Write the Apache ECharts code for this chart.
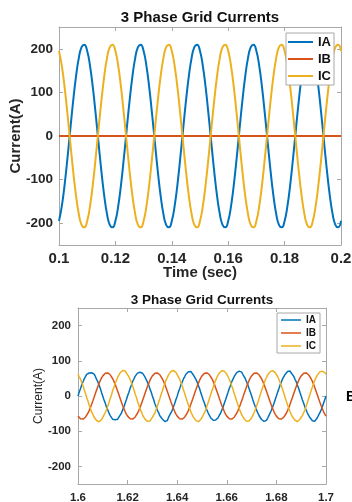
<!DOCTYPE html>
<html>
<head>
<meta charset="utf-8">
<script src="https://cdn.jsdelivr.net/npm/echarts@6/dist/echarts.min.js"></script>
<style>html,body{margin:0;padding:0;background:#fff;}#c{width:352px;height:502px;}</style>
</head>
<body>
<div id="c"></div>
<script>
// ---------- Data ----------
const seriesNames = ['IA', 'IB', 'IC'];
const chartTitle = '3 Phase Grid Currents';
const xAxisName = 'Time (sec)';
const yAxisName = 'Current(A)';
const yTickValues = [-200, -100, 0, 100, 200];

// Top panel: 0.1 .. 0.2 s
const topTimes = [
0.100,0.101,0.102,0.103,0.104,0.105,0.106,0.107,0.108,0.109,
0.110,0.111,0.112,0.113,0.114,0.115,0.116,0.117,0.118,0.119,
0.120,0.121,0.122,0.123,0.124,0.125,0.126,0.127,0.128,0.129,
0.130,0.131,0.132,0.133,0.134,0.135,0.136,0.137,0.138,0.139,
0.140,0.141,0.142,0.143,0.144,0.145,0.146,0.147,0.148,0.149,
0.150,0.151,0.152,0.153,0.154,0.155,0.156,0.157,0.158,0.159,
0.160,0.161,0.162,0.163,0.164,0.165,0.166,0.167,0.168,0.169,
0.170,0.171,0.172,0.173,0.174,0.175,0.176,0.177,0.178,0.179,
0.180,0.181,0.182,0.183,0.184,0.185,0.186,0.187,0.188,0.189,
0.190,0.191,0.192,0.193,0.194,0.195,0.196,0.197,0.198,0.199,
0.200];
const topIA = [
-194.7,-160.9,-111.3,-50.8,14.7,78.7,135.0,178.1,203.8,209.5,194.7,160.9,111.3,50.8,-14.7,-78.7,-135.0,-178.1,-203.8,-209.5,
-194.7,-160.9,-111.3,-50.8,14.7,78.7,135.0,178.1,203.8,209.5,194.7,160.9,111.3,50.8,-14.7,-78.7,-135.0,-178.1,-203.8,-209.5,
-194.7,-160.9,-111.3,-50.8,14.7,78.7,135.0,178.1,203.8,209.5,194.7,160.9,111.3,50.8,-14.7,-78.7,-135.0,-178.1,-203.8,-209.5,
-194.7,-160.9,-111.3,-50.8,14.7,78.7,135.0,178.1,203.8,209.5,194.7,160.9,111.3,50.8,-14.7,-78.7,-135.0,-178.1,-203.8,-209.5,
-194.7,-160.9,-111.3,-50.8,14.7,78.7,135.0,178.1,203.8,209.5,194.7,160.9,111.3,50.8,-14.7,-78.7,-135.0,-178.1,-203.8,-209.5,
-194.7];
const topIBTimes = [0.1, 0.2];
const topIB = [0, 0];
const topIC = [
194.7,160.9,111.3,50.8,-14.7,-78.7,-135.0,-178.1,-203.8,-209.5,-194.7,-160.9,-111.3,-50.8,14.7,78.7,135.0,178.1,203.8,209.5,
194.7,160.9,111.3,50.8,-14.7,-78.7,-135.0,-178.1,-203.8,-209.5,-194.7,-160.9,-111.3,-50.8,14.7,78.7,135.0,178.1,203.8,209.5,
194.7,160.9,111.3,50.8,-14.7,-78.7,-135.0,-178.1,-203.8,-209.5,-194.7,-160.9,-111.3,-50.8,14.7,78.7,135.0,178.1,203.8,209.5,
194.7,160.9,111.3,50.8,-14.7,-78.7,-135.0,-178.1,-203.8,-209.5,-194.7,-160.9,-111.3,-50.8,14.7,78.7,135.0,178.1,203.8,209.5,
194.7,160.9,111.3,50.8,-14.7,-78.7,-135.0,-178.1,-203.8,-209.5,-194.7,-160.9,-111.3,-50.8,14.7,78.7,135.0,178.1,203.8,209.5,
194.7];

// Bottom panel: 1.6 .. 1.7 s
const bottomTimes = [
1.6000,1.6005,1.6010,1.6015,1.6020,1.6025,1.6030,1.6035,1.6040,1.6045,1.6050,1.6055,1.6060,1.6065,1.6070,1.6075,1.6080,1.6085,1.6090,1.6095,
1.6100,1.6105,1.6110,1.6115,1.6120,1.6125,1.6130,1.6135,1.6140,1.6145,1.6150,1.6155,1.6160,1.6165,1.6170,1.6175,1.6180,1.6185,1.6190,1.6195,
1.6200,1.6205,1.6210,1.6215,1.6220,1.6225,1.6230,1.6235,1.6240,1.6245,1.6250,1.6255,1.6260,1.6265,1.6270,1.6275,1.6280,1.6285,1.6290,1.6295,
1.6300,1.6305,1.6310,1.6315,1.6320,1.6325,1.6330,1.6335,1.6340,1.6345,1.6350,1.6355,1.6360,1.6365,1.6370,1.6375,1.6380,1.6385,1.6390,1.6395,
1.6400,1.6405,1.6410,1.6415,1.6420,1.6425,1.6430,1.6435,1.6440,1.6445,1.6450,1.6455,1.6460,1.6465,1.6470,1.6475,1.6480,1.6485,1.6490,1.6495,
1.6500,1.6505,1.6510,1.6515,1.6520,1.6525,1.6530,1.6535,1.6540,1.6545,1.6550,1.6555,1.6560,1.6565,1.6570,1.6575,1.6580,1.6585,1.6590,1.6595,
1.6600,1.6605,1.6610,1.6615,1.6620,1.6625,1.6630,1.6635,1.6640,1.6645,1.6650,1.6655,1.6660,1.6665,1.6670,1.6675,1.6680,1.6685,1.6690,1.6695,
1.6700,1.6705,1.6710,1.6715,1.6720,1.6725,1.6730,1.6735,1.6740,1.6745,1.6750,1.6755,1.6760,1.6765,1.6770,1.6775,1.6780,1.6785,1.6790,1.6795,
1.6800,1.6805,1.6810,1.6815,1.6820,1.6825,1.6830,1.6835,1.6840,1.6845,1.6850,1.6855,1.6860,1.6865,1.6870,1.6875,1.6880,1.6885,1.6890,1.6895,
1.6900,1.6905,1.6910,1.6915,1.6920,1.6925,1.6930,1.6935,1.6940,1.6945,1.6950,1.6955,1.6960,1.6965,1.6970,1.6975,1.6980,1.6985,1.6990,1.6995,
1.7000];
const bottomIA = [
0,11.2,20.5,31.4,39.6,48.8,54.3,61.2,66.1,65.3,70.2,66.0,68.4,62.1,55.6,47.2,40.8,30.1,21.7,9.9,
-0.6,-11.4,-20.3,-31.8,-39.2,-48.9,-55.7,-60.1,-66.3,-70.8,-67.4,-71.9,-66.0,-62.3,-54.4,-48.6,-39.5,-31.2,-20.4,-10.9,
0.5,10.1,21.6,30.3,40.7,47.6,55.8,59.9,65.0,69.1,67.5,71.3,64.8,61.5,54.1,48.9,39.3,31.6,20.2,11.3,
0.2,-10.2,-21.8,-30.5,-40.6,-47.3,-56.1,-61.7,-65.2,-69.5,-72.4,-66.8,-69.9,-60.8,-55.9,-47.5,-40.7,-30.4,-21.3,-9.8,
-0.4,11.7,20.9,31.8,39.1,48.5,54.6,61.8,64.2,68.7,66.3,69.8,66.1,59.7,55.4,47.8,40.2,30.6,21.4,10.2,
-0.8,-11.1,-20.6,-31.2,-40.1,-48.4,-54.8,-62.0,-64.9,-68.8,-71.2,-68.1,-70.5,-61.6,-54.7,-48.9,-39.8,-31.5,-20.7,-10.5,
0.3,10.4,21.3,30.7,40.4,48.0,55.5,60.3,66.4,66.2,70.6,65.7,67.9,61.0,55.0,48.4,39.7,31.1,20.8,10.8,
0.4,-10.7,-21.2,-30.8,-40.3,-47.9,-55.4,-60.7,-66.8,-68.1,-72.0,-67.3,-69.2,-62.5,-55.1,-47.7,-40.4,-30.9,-21.0,-10.4,
-0.2,11.0,20.7,31.2,39.8,48.6,54.9,61.1,65.3,69.4,66.8,70.9,65.2,60.9,55.7,47.4,40.5,30.4,21.5,10.0,
-0.3,-11.3,-20.9,-31.0,-39.9,-48.2,-55.2,-61.3,-65.6,-70.1,-67.9,-71.5,-66.4,-61.8,-54.6,-48.1,-40.0,-31.3,-20.9,-10.6,
0.1];
const bottomIB = [
-57.2,-61.6,-64.6,-65.9,-65.6,-63.7,-60.3,-55.4,-49.0,-41.5,-33.0,-23.7,-13.7,-3.5,6.9,17.1,26.8,35.9,44.2,51.3,
57.2,61.6,64.6,65.9,65.6,63.7,60.3,55.4,49.0,41.5,33.0,23.7,13.7,3.5,-6.9,-17.1,-26.8,-35.9,-44.2,-51.3,
-57.2,-61.6,-64.6,-65.9,-65.6,-63.7,-60.3,-55.4,-49.0,-41.5,-33.0,-23.7,-13.7,-3.5,6.9,17.1,26.8,35.9,44.2,51.3,
57.2,61.6,64.6,65.9,65.6,63.7,60.3,55.4,49.0,41.5,33.0,23.7,13.7,3.5,-6.9,-17.1,-26.8,-35.9,-44.2,-51.3,
-57.2,-61.6,-64.6,-65.9,-65.6,-63.7,-60.3,-55.4,-49.0,-41.5,-33.0,-23.7,-13.7,-3.5,6.9,17.1,26.8,35.9,44.2,51.3,
57.2,61.6,64.6,65.9,65.6,63.7,60.3,55.4,49.0,41.5,33.0,23.7,13.7,3.5,-6.9,-17.1,-26.8,-35.9,-44.2,-51.3,
-57.2,-61.6,-64.6,-65.9,-65.6,-63.7,-60.3,-55.4,-49.0,-41.5,-33.0,-23.7,-13.7,-3.5,6.9,17.1,26.8,35.9,44.2,51.3,
57.2,61.6,64.6,65.9,65.6,63.7,60.3,55.4,49.0,41.5,33.0,23.7,13.7,3.5,-6.9,-17.1,-26.8,-35.9,-44.2,-51.3,
-57.2,-61.6,-64.6,-65.9,-65.6,-63.7,-60.3,-55.4,-49.0,-41.5,-33.0,-23.7,-13.7,-3.5,6.9,17.1,26.8,35.9,44.2,51.3,
57.2,61.6,64.6,65.9,65.6,63.7,60.3,55.4,49.0,41.5,33.0,23.7,13.7,3.5,-6.9,-17.1,-26.8,-35.9,-44.2,-51.3,
-57.2];
const bottomIC = [
62.3,54.6,48.1,38.2,29.6,17.9,8.1,-4.2,-14.1,-26.0,-34.9,-45.3,-52.1,-60.2,-64.3,-69.5,-69.8,-73.1,-68.7,-67.2,
-60.9,-55.8,-46.9,-39.3,-28.3,-19.0,-6.8,3.1,15.4,24.8,36.1,44.0,53.5,58.8,66.0,67.7,72.4,69.8,71.3,65.4,
62.0,54.9,47.0,39.3,28.4,19.0,6.9,-3.2,-15.3,-24.9,-36.0,-44.1,-53.4,-58.9,-65.6,-67.9,-72.0,-70.1,-71.2,-65.5,
-62.1,-54.6,-48.0,-38.1,-29.5,-17.8,-7.9,4.3,14.2,26.0,34.9,45.3,52.2,60.1,64.2,69.8,69.9,72.6,68.5,67.0,
61.0,55.8,47.9,38.0,29.3,18.0,7.8,-4.0,-14.5,-25.9,-35.1,-45.0,-52.5,-60.0,-64.6,-69.2,-70.9,-72.8,-68.9,-66.8,
-61.0,-55.5,-47.1,-39.0,-28.6,-18.8,-7.0,3.4,15.1,25.0,35.8,44.4,53.1,59.2,65.5,68.2,71.8,70.3,70.6,65.8,
61.8,54.7,47.6,38.9,28.7,18.6,7.2,-3.5,-15.0,-25.2,-35.7,-44.5,-53.0,-59.3,-65.2,-68.1,-71.6,-70.2,-70.8,-65.9,
-61.8,-54.9,-47.7,-38.5,-29.1,-18.2,-7.6,3.9,14.6,25.6,35.3,44.9,52.6,59.8,64.5,69.3,70.4,72.1,69.0,66.6,
61.3,55.4,47.3,38.5,29.1,18.2,7.6,-3.9,-14.6,-25.5,-35.4,-44.9,-52.7,-59.6,-64.8,-68.9,-70.3,-72.5,-69.6,-66.1,
-61.4,-55.0,-47.6,-38.8,-28.8,-18.5,-7.2,3.6,14.9,25.2,35.6,44.6,52.9,59.4,65.0,68.5,71.2,70.7,70.0,66.4,
61.6];

// ---------- Chart ----------
const colors = ['#0072BD', '#D95319', '#EDB120'];
const frameColor = '#a8a8a8';
const txtColor = '#262626';
const FONT = '"Liberation Sans", Arial, sans-serif';
const zip = (xs, ys) => xs.map((x, i) => [x, ys[i]]);
const fmtX = v => String(+(+v).toFixed(2));

function xAx(grid, pos, min, max, labelSize, showLabel, margin, name, nameGap, nameSize) {
  return {
    type: 'value', gridIndex: grid, position: pos, min: min, max: max, interval: 0.02,
    axisLine: { show: true, onZero: false, lineStyle: { color: frameColor, width: 1 } },
    axisTick: { show: true, inside: true, length: 4, lineStyle: { color: frameColor } },
    axisLabel: { show: showLabel, formatter: fmtX, color: txtColor, fontWeight: 'bold', fontSize: labelSize, fontFamily: FONT, margin: margin, hideOverlap: false },
    splitLine: { show: false },
    name: name || '', nameLocation: 'middle', nameGap: nameGap || 0, nameMoveOverlap: false,
    nameTextStyle: { color: txtColor, fontWeight: 'bold', fontSize: nameSize || 12, fontFamily: FONT }
  };
}
function yAx(grid, pos, labelSize, showLabel, margin, name, nameGap, nameSize, nameWeight) {
  return {
    type: 'value', gridIndex: grid, position: pos, min: -250, max: 250, interval: 50,
    axisLine: { show: true, onZero: false, lineStyle: { color: frameColor, width: 1 } },
    axisTick: { show: true, inside: true, length: 4, customValues: yTickValues, lineStyle: { color: frameColor } },
    axisLabel: { show: showLabel, customValues: yTickValues, color: txtColor, fontWeight: 'bold', fontSize: labelSize, fontFamily: FONT, margin: margin },
    splitLine: { show: false },
    name: name || '', nameLocation: 'middle', nameGap: nameGap || 0, nameRotate: 90, nameMoveOverlap: false,
    nameTextStyle: { color: txtColor, fontWeight: nameWeight || 'bold', fontSize: nameSize || 12, fontFamily: FONT }
  };
}
function lineSeries(name, data, xi, yi, color, width, smooth, z) {
  return {
    type: 'line', name: name, data: data, xAxisIndex: xi, yAxisIndex: yi,
    symbol: 'none', showSymbol: false, smooth: smooth, color: color, z: z,
    lineStyle: { color: color, width: width }, emphasis: { disabled: true }, clip: true
  };
}

const chart = echarts.init(document.getElementById('c'), null, { renderer: 'canvas', width: 352, height: 502 });
chart.setOption({
  animation: false,
  backgroundColor: '#ffffff',
  grid: [
    { left: 59, top: 27, width: 282, height: 218, containLabel: false, outerBoundsMode: 'none' },
    { left: 78, top: 308, width: 248, height: 176, containLabel: false, outerBoundsMode: 'none' }
  ],
  xAxis: [
    xAx(0, 'bottom', 0.1, 0.2, 15, true, 6, xAxisName, 20, 15),
    xAx(0, 'top', 0.1, 0.2, 15, false, 6),
    xAx(1, 'bottom', 1.6, 1.7, 11.5, true, 8),
    xAx(1, 'top', 1.6, 1.7, 11.5, false, 8)
  ],
  yAxis: [
    yAx(0, 'left', 13.5, true, 6, yAxisName, 36, 15, 'bold'),
    yAx(0, 'right', 13.5, false, 6),
    yAx(1, 'left', 11.5, true, 7, yAxisName, 33, 12, 'normal'),
    yAx(1, 'right', 11.5, false, 7)
  ],
  legend: [
    {
      data: seriesNames, orient: 'vertical', left: 286, top: 33, icon: 'rect',
      itemWidth: 25, itemHeight: 2, itemGap: 3, padding: [2, 3, 2, 2],
      backgroundColor: '#ffffff', borderColor: frameColor, borderWidth: 1, borderRadius: 0,
      textStyle: { color: '#111', fontWeight: 'bold', fontSize: 13, lineHeight: 14, fontFamily: FONT },
      selectedMode: false, z: 10
    },
    {
      data: seriesNames, orient: 'vertical', left: 277, top: 313, icon: 'rect',
      itemWidth: 20, itemHeight: 1.5, itemGap: 3, padding: [2, 4, 2, 4],
      backgroundColor: '#ffffff', borderColor: frameColor, borderWidth: 1, borderRadius: 0,
      textStyle: { color: '#111', fontWeight: 'bold', fontSize: 10, lineHeight: 10, fontFamily: FONT },
      selectedMode: false, z: 10
    }
  ],
  graphic: [
    { type: 'text', x: 200, y: 18, z: 20, style: { text: chartTitle, fill: '#111', font: 'bold 15px ' + FONT, textAlign: 'center', textVerticalAlign: 'middle' } },
    { type: 'text', x: 202, y: 300, z: 20, style: { text: chartTitle, fill: '#111', font: 'bold 13.5px ' + FONT, textAlign: 'center', textVerticalAlign: 'middle' } },
    { type: 'text', x: 346, y: 397, z: 20, style: { text: 'B', fill: '#000', font: 'bold 14px ' + FONT, textAlign: 'left', textVerticalAlign: 'middle' } }
  ],
  series: [
    lineSeries('IA', zip(topTimes, topIA), 0, 0, colors[0], 2, true, 2),
    lineSeries('IB', zip(topIBTimes, topIB), 0, 0, colors[1], 2, false, 3),
    lineSeries('IC', zip(topTimes, topIC), 0, 0, colors[2], 2, true, 4),
    lineSeries('IA', zip(bottomTimes, bottomIA), 2, 2, colors[0], 1.5, false, 2),
    lineSeries('IB', zip(bottomTimes, bottomIB), 2, 2, colors[1], 1.5, false, 3),
    lineSeries('IC', zip(bottomTimes, bottomIC), 2, 2, colors[2], 1.5, false, 4)
  ]
});
</script>
</body>
</html>
